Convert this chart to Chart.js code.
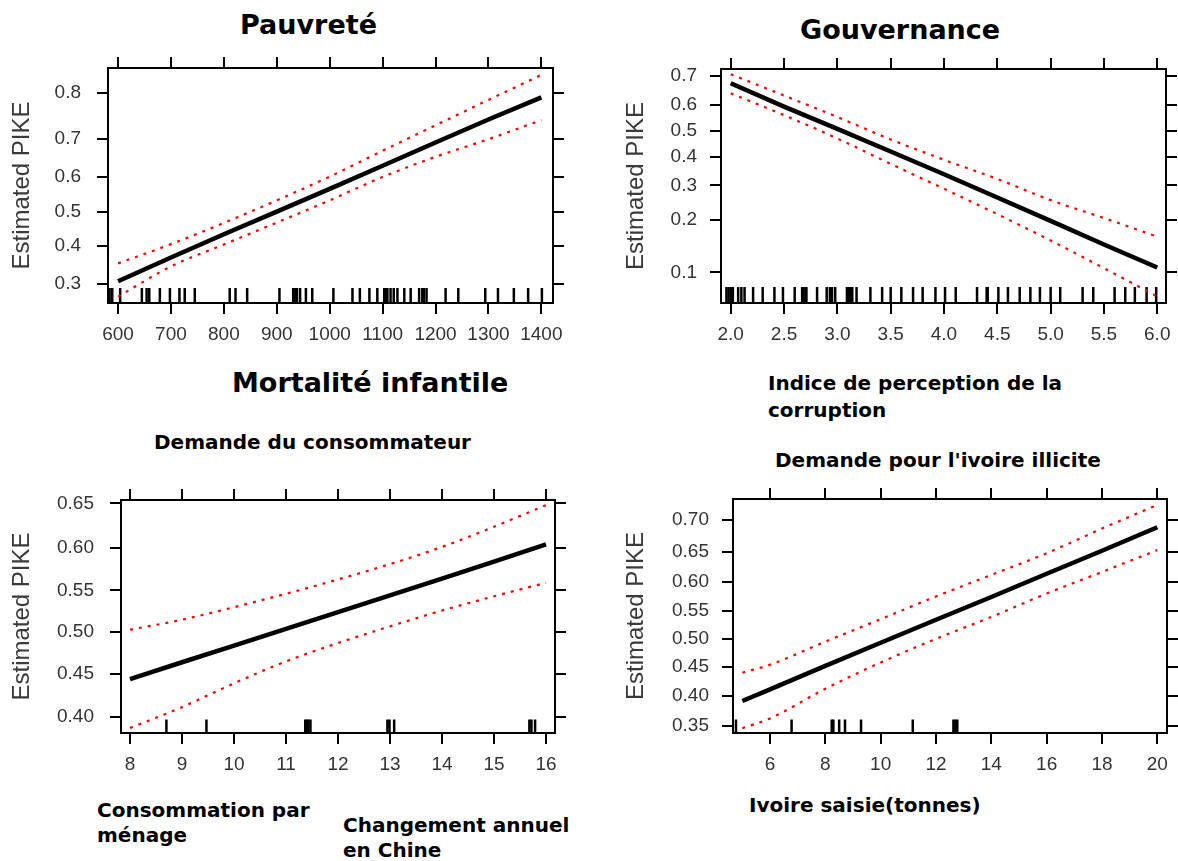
<!DOCTYPE html>
<html>
<head>
<meta charset="utf-8">
<script src="https://cdn.jsdelivr.net/npm/chart.js@4.4.1/dist/chart.umd.min.js"></script>
<style>
html,body{margin:0;padding:0;background:#fff;}
body{position:relative;width:1178px;height:861px;overflow:hidden;}
canvas{position:absolute;}
.t{position:absolute;font-family:"DejaVu Sans",sans-serif;font-weight:bold;color:#000;white-space:nowrap;}
.t1{font-size:27px;line-height:32px;}
.t2{font-size:20px;line-height:25px;}
.t3{font-size:20px;line-height:27px;}
</style>
</head>
<body>
<div class="t t1" style="left:240px;top:9px;">Pauvreté</div>
<div class="t t1" style="left:800px;top:14px;">Gouvernance</div>
<div class="t t1" style="left:232px;top:367px;">Mortalité infantile</div>
<div class="t t3" style="left:768px;top:370px;">Indice de perception de la<br>corruption</div>
<div class="t t2" style="left:154px;top:430px;">Demande du consommateur</div>
<div class="t t2" style="left:775px;top:448px;">Demande pour l'ivoire illicite</div>
<div class="t t2" style="left:97px;top:798px;">Consommation par<br>ménage</div>
<div class="t t2" style="left:343px;top:813px;">Changement annuel<br>en Chine</div>
<div class="t t2" style="left:749px;top:793px;">Ivoire saisie(tonnes)</div>

<canvas id="c1" width="575" height="305" style="left:0px;top:45px;"></canvas>
<canvas id="c2" width="578" height="305" style="left:600px;top:45px;"></canvas>
<canvas id="c3" width="575" height="310" style="left:0px;top:470px;"></canvas>
<canvas id="c4" width="578" height="310" style="left:600px;top:470px;"></canvas>

<script>
// ---------- Panel 1 : Pauvreté (mortalité infantile) ----------
const povX      = [600, 700, 800, 900, 1000, 1100, 1200, 1300, 1400];
const povFit    = [0.307, 0.369, 0.434, 0.500, 0.566, 0.631, 0.692, 0.746, 0.792];
const povUpper  = [0.353, 0.406, 0.467, 0.533, 0.601, 0.671, 0.733, 0.787, 0.832];
const povLower  = [0.270, 0.345, 0.405, 0.468, 0.533, 0.600, 0.655, 0.700, 0.745];
const povRug    = [584, 589, 604, 645, 654, 659, 679, 698, 716, 726, 745, 811, 822, 844, 905, 931, 935, 938, 944, 955, 967, 1007, 1043, 1057, 1075, 1090, 1103, 1106, 1109, 1115, 1121, 1128, 1141, 1153, 1169, 1175, 1178, 1183, 1219, 1243, 1294, 1318, 1348, 1375, 1401];
const povXTicks = [600, 700, 800, 900, 1000, 1100, 1200, 1300, 1400];
const povXLabels = ['600','700','800','900','1000','1100','1200','1300','1400'];
const povYTicks = [0.3, 0.4, 0.5, 0.6, 0.7, 0.8];
const povYLabels = ['0.3','0.4','0.5','0.6','0.7','0.8'];

// ---------- Panel 2 : Gouvernance (indice de perception de la corruption) ----------
const govX      = [2.0, 2.5, 3.0, 3.5, 4.0, 4.5, 5.0, 5.5, 6.0];
const govFit    = [0.676, 0.592, 0.507, 0.420, 0.337, 0.262, 0.198, 0.146, 0.107];
const govUpper  = [0.706, 0.633, 0.553, 0.466, 0.389, 0.321, 0.254, 0.205, 0.162];
const govLower  = [0.641, 0.560, 0.470, 0.374, 0.289, 0.215, 0.154, 0.106, 0.071];
const govRug    = [1.96, 1.98, 2.00, 2.02, 2.07, 2.10, 2.13, 2.21, 2.30, 2.41, 2.49, 2.60, 2.67, 2.68, 2.70, 2.71, 2.81, 2.90, 2.93, 2.95, 2.98, 3.09, 3.10, 3.12, 3.14, 3.18, 3.31, 3.42, 3.50, 3.60, 3.71, 3.80, 3.92, 4.01, 4.11, 4.31, 4.40, 4.41, 4.51, 4.60, 4.71, 4.81, 4.90, 5.00, 5.09, 5.30, 5.40, 5.60, 5.70, 5.79, 5.90, 5.99];
const govXTicks = [2.0, 2.5, 3.0, 3.5, 4.0, 4.5, 5.0, 5.5, 6.0];
const govXLabels = ['2.0','2.5','3.0','3.5','4.0','4.5','5.0','5.5','6.0'];
const govYTicks = [0.1, 0.2, 0.3, 0.4, 0.5, 0.6, 0.7];
const govYLabels = ['0.1','0.2','0.3','0.4','0.5','0.6','0.7'];

// ---------- Panel 3 : Demande du consommateur ----------
const conX      = [8, 9, 10, 11, 12, 13, 14, 15, 16];
const conFit    = [0.444, 0.464, 0.484, 0.504, 0.524, 0.544, 0.564, 0.584, 0.604];
const conUpper  = [0.503, 0.515, 0.530, 0.546, 0.563, 0.581, 0.601, 0.624, 0.648];
const conLower  = [0.387, 0.411, 0.439, 0.465, 0.487, 0.507, 0.526, 0.543, 0.559];
const conRug    = [8.70, 9.47, 11.37, 11.40, 11.43, 11.47, 12.95, 12.99, 13.08, 15.68, 15.72, 15.79];
const conXTicks = [8, 9, 10, 11, 12, 13, 14, 15, 16];
const conXLabels = ['8','9','10','11','12','13','14','15','16'];
const conYTicks = [0.40, 0.45, 0.50, 0.55, 0.60, 0.65];
const conYLabels = ['0.40','0.45','0.50','0.55','0.60','0.65'];

// ---------- Panel 4 : Demande pour l'ivoire illicite ----------
const ivoX      = [5, 6, 8, 10, 12, 14, 16, 18, 20];
const ivoFit    = [0.391, 0.411, 0.452, 0.493, 0.534, 0.574, 0.614, 0.652, 0.689];
const ivoUpper  = [0.440, 0.454, 0.495, 0.535, 0.575, 0.612, 0.648, 0.687, 0.722];
const ivoLower  = [0.346, 0.362, 0.412, 0.458, 0.500, 0.539, 0.580, 0.617, 0.653];
const ivoRug    = [4.77, 6.78, 8.23, 8.29, 8.50, 8.71, 9.29, 11.16, 12.63, 12.70, 12.77];
const ivoXTicks = [6, 8, 10, 12, 14, 16, 18, 20];
const ivoXLabels = ['6','8','10','12','14','16','18','20'];
const ivoYTicks = [0.35, 0.40, 0.45, 0.50, 0.55, 0.60, 0.65, 0.70];
const ivoYLabels = ['0.35','0.40','0.45','0.50','0.55','0.60','0.65','0.70'];

// ---------- helpers ----------
const logit = p => Math.log(p / (1 - p));
const TICK_FONT = {family: '"Liberation Sans", Arial, sans-serif', size: 19};
const TITLE_FONT = {family: '"Liberation Sans", Arial, sans-serif', size: 24};

function axisBase() {
  return {
    type: 'linear',
    border: {display: true, color: '#000', width: 2},
    grid: {display: true, drawOnChartArea: false, drawTicks: true, tickLength: 11,
           tickWidth: 2, tickColor: '#000', color: '#000', lineWidth: 2}
  };
}

function makePanel(id, d, lay) {
  const ctx = document.getElementById(id);
  const yMin = logit(lay.yMinP), yMax = logit(lay.yMaxP);
  const setX = s => { s.ticks = d.xTicks.map(v => ({value: v})); };
  const setY = s => { s.ticks = d.yTicks.map(p => ({value: logit(p)})); };
  const line = (vals, color, width, dash, smooth) => ({
    data: d.xs.map((x, i) => ({x: x, y: logit(vals[i])})),
    showLine: true, borderColor: color, borderWidth: width, borderDash: dash,
    pointRadius: 0, fill: false,
    cubicInterpolationMode: smooth ? 'monotone' : 'default', tension: 0
  });
  return new Chart(ctx, {
    type: 'scatter',
    data: {
      datasets: [
        line(d.up, '#ff0000', 2.2, [3, 6], true),
        line(d.lo, '#ff0000', 2.2, [3, 6], true),
        line(d.fit, '#000000', 4.5, [], false),
        {
          data: d.rug.map(v => ({x: v, y: yMin})),
          showLine: false, pointStyle: 'line', rotation: 90,
          pointRadius: lay.rugLen, pointBorderColor: '#000', pointBorderWidth: 2.5,
          clip: 0
        }
      ]
    },
    options: {
      responsive: false, animation: false, events: [],
      layout: {padding: 0, autoPadding: false},
      plugins: {legend: {display: false}, tooltip: {enabled: false}},
      scales: {
        x: Object.assign(axisBase(), {
          position: 'bottom', min: lay.xMin, max: lay.xMax,
          afterBuildTicks: setX,
          ticks: {font: TICK_FONT, color: '#333', padding: lay.xPad, maxRotation: 0,
                  autoSkip: false, callback: (v, i) => d.xLabels[i]},
          afterFit: s => { s.height = lay.xH; s.paddingLeft = 0; s.paddingRight = 0; }
        }),
        x2: Object.assign(axisBase(), {
          position: 'top', min: lay.xMin, max: lay.xMax,
          afterBuildTicks: setX,
          ticks: {display: false},
          afterFit: s => { s.height = lay.x2H; s.paddingLeft = 0; s.paddingRight = 0; }
        }),
        y: Object.assign(axisBase(), {
          position: 'left', min: yMin, max: yMax,
          afterBuildTicks: setY,
          ticks: {font: TICK_FONT, color: '#333', padding: lay.yPad, autoSkip: false,
                  callback: (v, i) => d.yLabels[i]},
          title: {display: true, text: 'Estimated PIKE', font: TITLE_FONT, color: '#3a3a3a',
                  padding: {top: lay.titlePad, bottom: 0}},
          afterFit: s => { s.width = lay.yW; s.paddingTop = 0; s.paddingBottom = 0; }
        }),
        y2: Object.assign(axisBase(), {
          position: 'right', min: yMin, max: yMax,
          afterBuildTicks: setY,
          ticks: {display: false},
          afterFit: s => { s.width = lay.y2W; s.paddingTop = 0; s.paddingBottom = 0; }
        })
      }
    }
  });
}

makePanel('c1',
  {xs: povX, fit: povFit, up: povUpper, lo: povLower, rug: povRug,
   xTicks: povXTicks, xLabels: povXLabels, yTicks: povYTicks, yLabels: povYLabels},
  {xMin: 581, xMax: 1422, yMinP: 0.2555, yMaxP: 0.843,
   yW: 108, y2W: 22, x2H: 23, xH: 47, xPad: 9, yPad: 16, titlePad: 8, rugLen: 15});

makePanel('c2',
  {xs: govX, fit: govFit, up: govUpper, lo: govLower, rug: govRug,
   xTicks: govXTicks, xLabels: govXLabels, yTicks: govYTicks, yLabels: govYLabels},
  {xMin: 1.909, xMax: 6.082, yMinP: 0.0646, yMaxP: 0.7224,
   yW: 121, y2W: 12, x2H: 24, xH: 47, xPad: 9, yPad: 13, titlePad: 22, rugLen: 16});

makePanel('c3',
  {xs: conX, fit: conFit, up: conUpper, lo: conLower, rug: conRug,
   xTicks: conXTicks, xLabels: conXLabels, yTicks: conYTicks, yLabels: conYLabels},
  {xMin: 7.827, xMax: 16.173, yMinP: 0.3813, yMaxP: 0.6536,
   yW: 121, y2W: 20, x2H: 30, xH: 47, xPad: 9, yPad: 16, titlePad: 8, rugLen: 13.5});

makePanel('c4',
  {xs: ivoX, fit: ivoFit, up: ivoUpper, lo: ivoLower, rug: ivoRug,
   xTicks: ivoXTicks, xLabels: ivoXLabels, yTicks: ivoYTicks, yLabels: ivoYLabels},
  {xMin: 4.662, xMax: 20.35, yMinP: 0.3383, yMaxP: 0.7304,
   yW: 133, y2W: 11, x2H: 29, xH: 47, xPad: 9, yPad: 13, titlePad: 22, rugLen: 13.5});
</script>
</body>
</html>
